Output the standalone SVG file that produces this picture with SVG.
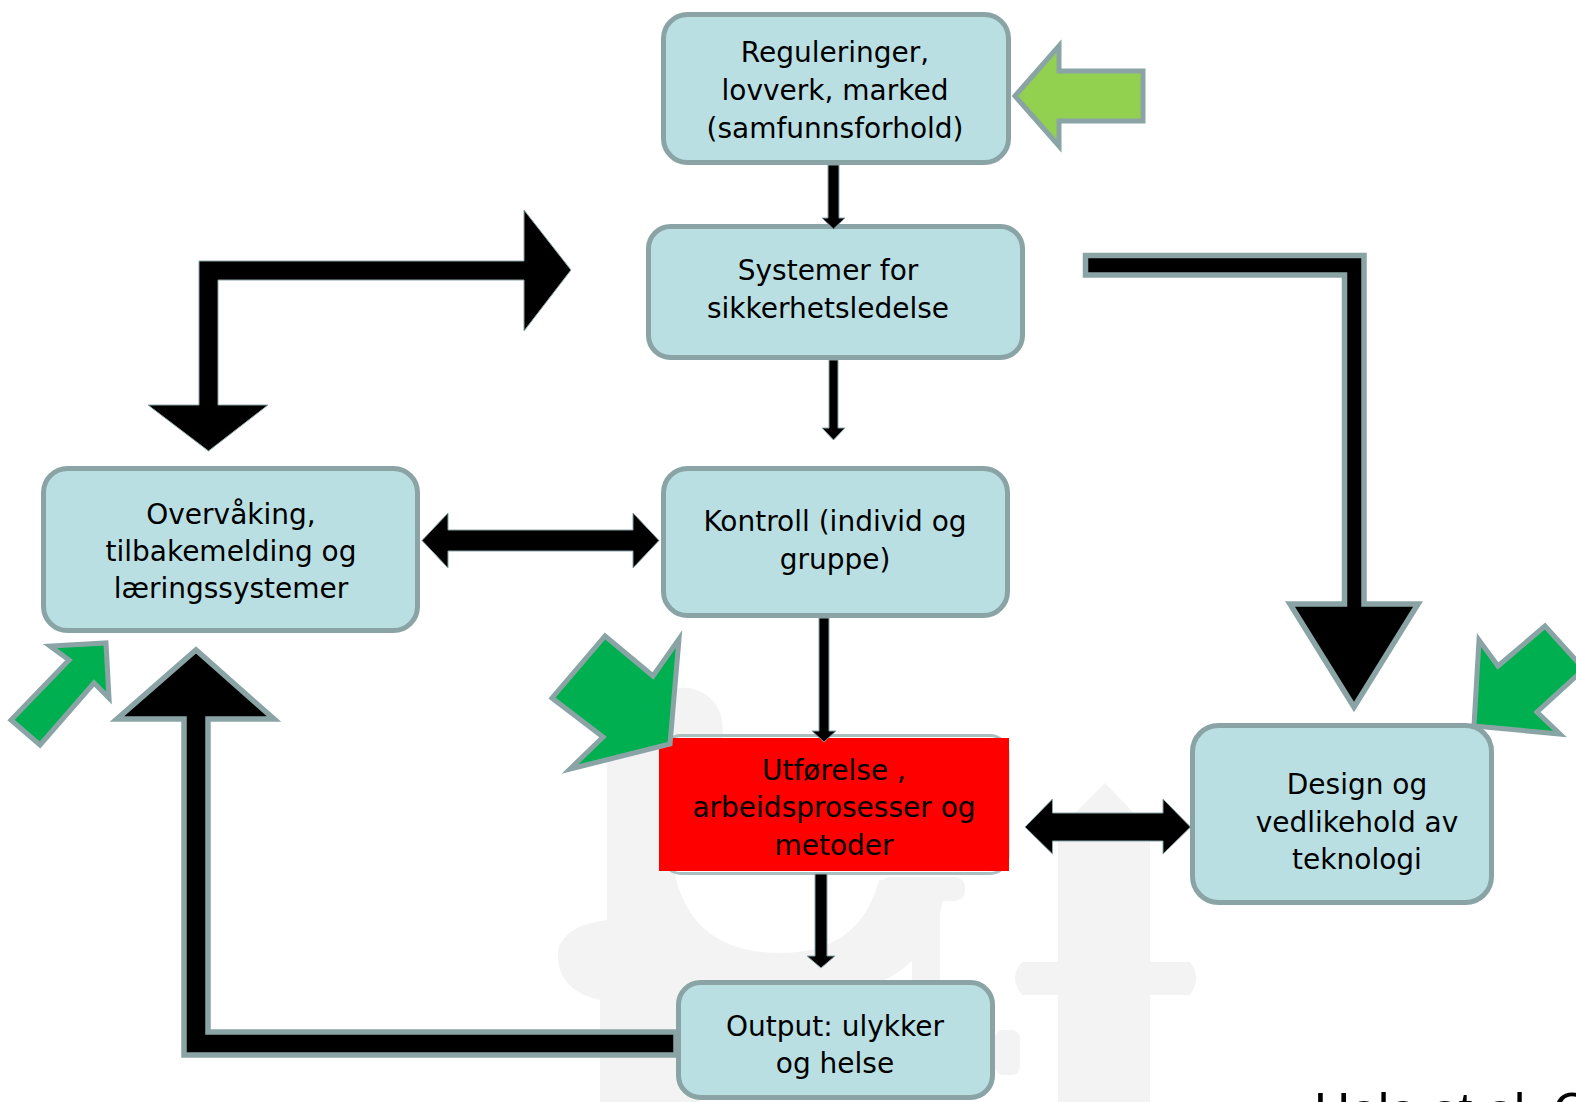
<svg xmlns="http://www.w3.org/2000/svg" width="1576" height="1102" viewBox="0 0 1576 1102">
<style>
.box{fill:#b9dfe3;stroke:#8aa4a6;stroke-width:5}
.lbl{font-family:"DejaVu Sans","Liberation Sans",sans-serif;font-size:28px;fill:#000;text-anchor:middle}
.thin{fill:#000;stroke:#8aa4a6;stroke-width:1}
.thick{fill:#000;stroke:#8aa4a6;stroke-width:5.5;stroke-linejoin:miter}
.g1{fill:#92d050;stroke:#8aa4a6;stroke-width:5}
.g2{fill:#00b050;stroke:#8aa4a6;stroke-width:5}
.wm{fill:#f3f3f3}
</style>
<rect width="1576" height="1102" fill="#fff"/>
<g id="watermark">
<path class="wm" d="M607,690 L690,688 Q728,698 722,742 L674,745 L674,870 Q690,953 780,953 Q860,953 879,880 L945,880 Q940,1000 780,1000 L700,1000 L700,1102 L600,1102 L600,1000 Q555,990 558,950 Q565,925 607,920 Z"/>
<rect class="wm" x="880" y="877" width="85" height="24" rx="10"/>
<rect class="wm" x="912" y="900" width="28" height="100"/>
<path class="wm" d="M1105,783 L1150,830 L1150,962 L1190,962 Q1202,978 1190,995 L1150,995 L1150,1102 L1058,1102 L1058,995 L1022,995 Q1008,978 1022,962 L1058,962 L1058,830 Z"/>
<rect class="wm" x="995" y="1030" width="25" height="45" rx="8"/>
</g>
<g id="node-reguleringer">
<rect class="box" x="663.5" y="14.5" width="345" height="148" rx="24"/>
<text class="lbl" x="835" y="62">Reguleringer,</text>
<text class="lbl" x="835" y="100">lovverk, marked</text>
<text class="lbl" x="835" y="138">(samfunnsforhold)</text>
</g>
<g id="node-systemer">
<rect class="box" x="648.5" y="226.5" width="374" height="131" rx="22"/>
<text class="lbl" x="828" y="280">Systemer for</text>
<text class="lbl" x="828" y="318">sikkerhetsledelse</text>
</g>
<g id="node-overvaking">
<rect class="box" x="43.5" y="468.5" width="374" height="162" rx="24"/>
<text class="lbl" x="231" y="524">Overvåking,</text>
<text class="lbl" x="231" y="561">tilbakemelding og</text>
<text class="lbl" x="231" y="598">læringssystemer</text>
</g>
<g id="node-kontroll">
<rect class="box" x="663.5" y="468.5" width="344" height="147" rx="24"/>
<text class="lbl" x="835" y="531">Kontroll (individ og</text>
<text class="lbl" x="835" y="569">gruppe)</text>
</g>
<g id="node-utforelse">
<rect x="663" y="735.5" width="345" height="138" rx="18" fill="none" stroke="#a9bfc1" stroke-width="3"/>
<rect x="659" y="738" width="350" height="133" fill="#ff0000"/>
<text class="lbl" x="834" y="780">Utførelse ,</text>
<text class="lbl" x="834" y="817">arbeidsprosesser og</text>
<text class="lbl" x="834" y="855">metoder</text>
</g>
<g id="node-design">
<rect class="box" x="1192.5" y="725.5" width="299" height="177" rx="26"/>
<text class="lbl" x="1357" y="794">Design og</text>
<text class="lbl" x="1357" y="832">vedlikehold av</text>
<text class="lbl" x="1357" y="869">teknologi</text>
</g>
<g id="node-output">
<rect class="box" x="678.5" y="982.5" width="314" height="115" rx="22"/>
<text class="lbl" x="835" y="1036">Output: ulykker</text>
<text class="lbl" x="835" y="1073">og helse</text>
</g>
<g id="connectors">
<polygon class="thin" points="828,165 839,165 839,218 845,218 833.5,229 822,218 828,218"/>
<polygon class="thin" points="829,360 838,360 838,428 845,428 833.5,440 822,428 829,428"/>
<polygon class="thin" points="819,618 829,618 829,731 836,731 824,742 812,731 819,731"/>
<polygon class="thin" points="815,874 827,874 827,956 835,956 821,968 807,956 815,956"/>
<polygon class="thin" points="422,540.5 448,513 448,530 633,530 633,513 659,540.5 633,568 633,551 448,551 448,568"/>
<polygon class="thin" points="1025,827 1052.5,799 1052.5,813 1163,813 1163,799 1190.5,827 1163,854 1163,841 1052.5,841 1052.5,854"/>
<polygon class="thin" points="199,405 199,261 524,261 524,210 571,270 524,331 524,280 218,280 218,405 268,405 208.5,451 148,405"/>
<polygon class="thick" points="1085.5,255.5 1364,255.5 1364,604 1418,604 1354,707 1290,604 1344.5,604 1344.5,275 1085.5,275"/>
<polygon class="thick" points="676,1032 208,1032 208,719 274,719 196,650 117,719 184,719 184,1055 676,1055"/>
</g>
<g id="green-arrows">
<polygon class="g1" points="1015,96 1059,46 1059,71 1143,71 1143,121 1059,121 1059,146"/>
<polygon class="g2" points="106,643 109,698 94,683 40,745 11,720 69,660 50,646"/>
<polygon class="g2" points="605,636 653,676 679,639 670,744 570,769 603,737 552,698"/>
<polygon class="g2" points="1474,726 1479,640 1498,666 1545,626 1584,669 1537,712 1560,734"/>
</g>
<text x="1314" y="1128" font-family="Liberation Sans, Arial, sans-serif" font-size="50" fill="#000">Hale et al. C</text>
</svg>
